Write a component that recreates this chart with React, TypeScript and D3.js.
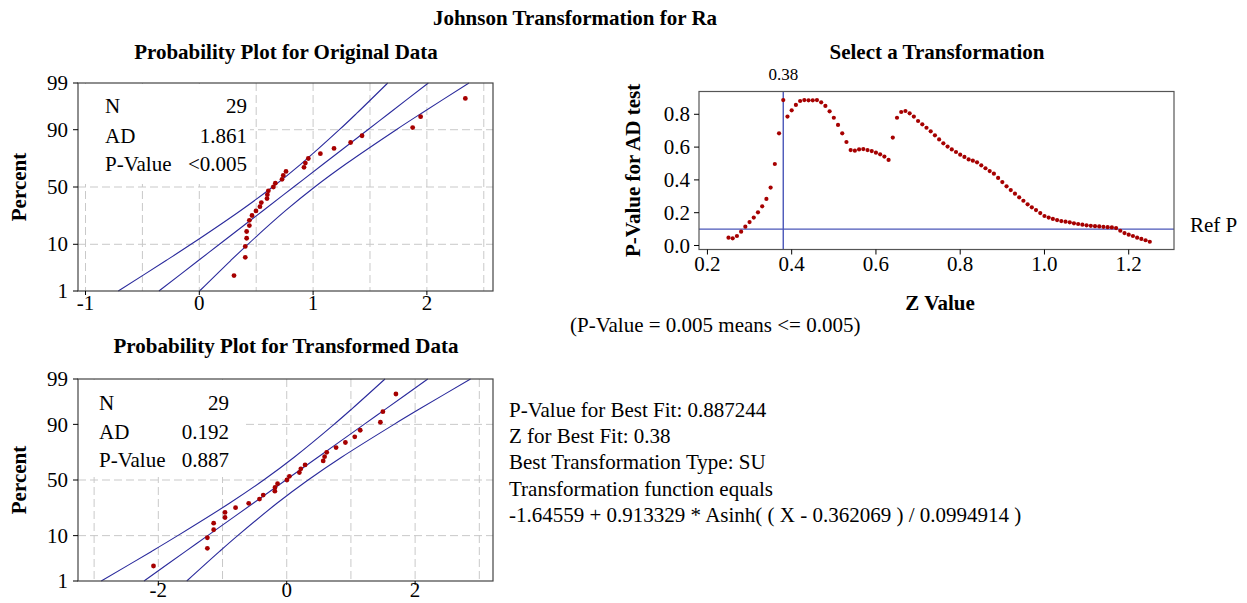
import React from 'react';
import * as d3 from 'd3';

const FONT = '"Liberation Serif", "Times New Roman", serif';
const FS = 21;
const DOT = '#a60000';
const LINE = '#2a2a9c';
const REF = '#4a56b8';
const GRID = '#c9c9c9';

// plotting positions (percent) of the 29 ranked observations
const percents = [2.38, 5.78, 9.18, 12.59, 15.99, 19.39, 22.79, 26.19, 29.59, 32.99, 36.39, 39.8, 43.2, 46.6, 50.0,
  53.4, 56.8, 60.2, 63.61, 67.01, 70.41, 73.81, 77.21, 80.61, 84.01, 87.41, 90.82, 94.22, 97.62];

const originalData = [0.305, 0.404, 0.404, 0.416, 0.416, 0.44, 0.44, 0.463, 0.498, 0.533, 0.545, 0.595, 0.598, 0.607,
  0.651, 0.668, 0.727, 0.738, 0.762, 0.92, 0.932, 0.958, 1.064, 1.184, 1.33, 1.43, 1.875, 1.945, 2.338];
const transformedData = [-2.075, -1.236, -1.236, -1.138, -1.138, -0.961, -0.961, -0.797, -0.592, -0.424, -0.366,
  -0.185, -0.182, -0.143, 0.003, 0.042, 0.197, 0.22, 0.286, 0.568, 0.59, 0.623, 0.769, 0.914, 1.06, 1.145, 1.459,
  1.498, 1.701];

// fitted line and 95% bands, read at these percent levels
const linePercents = [1, 5, 10, 30, 50, 70, 90, 95, 99];
const origFit = [-0.355, -0.008, 0.177, 0.562, 0.829, 1.096, 1.481, 1.666, 2.013];
const origLower = [-0.712, -0.292, -0.073, 0.364, 0.644, 0.898, 1.231, 1.382, 1.656];
const origUpper = [0.002, 0.276, 0.427, 0.76, 1.014, 1.294, 1.731, 1.95, 2.37];
const transFit = [-2.223, -1.576, -1.231, -0.511, -0.013, 0.485, 1.205, 1.55, 2.197];
const transLower = [-2.889, -2.106, -1.698, -0.88, -0.359, 0.116, 0.738, 1.02, 1.531];
const transUpper = [-1.557, -1.046, -0.764, -0.142, 0.333, 0.854, 1.672, 2.08, 2.863];

const percentTicks = [1, 10, 50, 90, 99];
const percentGrid = [10, 50, 90];

// Z value scan and AD p-values
const zValues = [0.25, 0.26, 0.27, 0.28, 0.29, 0.3, 0.31, 0.32, 0.33, 0.34, 0.35, 0.36, 0.37, 0.38, 0.39, 0.4, 0.41,
  0.42, 0.43, 0.44, 0.45, 0.46, 0.47, 0.48, 0.49, 0.5, 0.51, 0.52, 0.53, 0.54, 0.55, 0.56, 0.57, 0.58, 0.59, 0.6,
  0.61, 0.62, 0.63, 0.64, 0.65, 0.66, 0.67, 0.68, 0.69, 0.7, 0.71, 0.72, 0.73, 0.74, 0.75, 0.76, 0.77, 0.78, 0.79,
  0.8, 0.81, 0.82, 0.83, 0.84, 0.85, 0.86, 0.87, 0.88, 0.89, 0.9, 0.91, 0.92, 0.93, 0.94, 0.95, 0.96, 0.97, 0.98,
  0.99, 1.0, 1.01, 1.02, 1.03, 1.04, 1.05, 1.06, 1.07, 1.08, 1.09, 1.1, 1.11, 1.12, 1.13, 1.14, 1.15, 1.16, 1.17,
  1.18, 1.19, 1.2, 1.21, 1.22, 1.23, 1.24, 1.25];
const pValues = [0.048, 0.044, 0.058, 0.084, 0.115, 0.143, 0.17, 0.202, 0.239, 0.284, 0.353, 0.497, 0.684, 0.887,
  0.786, 0.824, 0.857, 0.881, 0.887, 0.885, 0.885, 0.887, 0.873, 0.851, 0.818, 0.779, 0.735, 0.684, 0.631, 0.582,
  0.578, 0.586, 0.588, 0.582, 0.576, 0.566, 0.556, 0.542, 0.522, 0.658, 0.779, 0.814, 0.82, 0.806, 0.786, 0.759,
  0.739, 0.718, 0.696, 0.672, 0.647, 0.623, 0.603, 0.586, 0.57, 0.554, 0.54, 0.525, 0.517, 0.507, 0.489, 0.471,
  0.454, 0.438, 0.412, 0.387, 0.361, 0.338, 0.316, 0.294, 0.273, 0.251, 0.233, 0.216, 0.198, 0.18, 0.17, 0.162,
  0.155, 0.149, 0.145, 0.141, 0.135, 0.131, 0.127, 0.123, 0.12, 0.118, 0.116, 0.114, 0.112, 0.11, 0.106, 0.09,
  0.076, 0.066, 0.058, 0.048, 0.04, 0.032, 0.023];
const bestZ = 0.38;
const refP = 0.1;
const pTicks = [0, 0.2, 0.4, 0.6, 0.8];
const zTicks = [0.2, 0.4, 0.6, 0.8, 1.0, 1.2];

const legendLabels = ['N', 'AD', 'P-Value'];
const origLegend = ['29', '1.861', '<0.005'];
const transLegend = ['29', '0.192', '0.887'];

const infoLines = [
  'P-Value for Best Fit: 0.887244',
  'Z for Best Fit: 0.38',
  'Best Transformation Type: SU',
  'Transformation function equals',
  '-1.64559 + 0.913329 * Asinh( ( X - 0.362069 ) / 0.0994914 )',
];

// inverse standard normal CDF (Acklam)
function probit(p: number): number {
  const a = [-39.69683028665376, 220.9460984245205, -275.9285104469687, 138.357751867269, -30.66479806614716, 2.506628277459239];
  const b = [-54.47609879822406, 161.5858368580409, -155.6989798598866, 66.80131188771972, -13.28068155288572];
  const c = [-0.007784894002430293, -0.3223964580411365, -2.400758277161838, -2.549732539343734, 4.374664141464968, 2.938163982698783];
  const d = [0.007784695709041462, 0.3224671290700398, 2.445134137142996, 3.754408661907416];
  const lo = 0.02425;
  if (p < lo) {
    const q = Math.sqrt(-2 * Math.log(p));
    return (((((c[0] * q + c[1]) * q + c[2]) * q + c[3]) * q + c[4]) * q + c[5]) / ((((d[0] * q + d[1]) * q + d[2]) * q + d[3]) * q + 1);
  }
  if (p > 1 - lo) return -probit(1 - p);
  const q = p - 0.5;
  const r = q * q;
  return (((((a[0] * r + a[1]) * r + a[2]) * r + a[3]) * r + a[4]) * r + a[5]) * q /
    (((((b[0] * r + b[1]) * r + b[2]) * r + b[3]) * r + b[4]) * r + 1);
}

type Tick = { pos: number; label: string };

const BottomAxis = ({ ticks, y, len, base }: { ticks: Tick[]; y: number; len: number; base: number }) => (
  <g>
    {ticks.map(t => (
      <g key={t.label}>
        <line x1={t.pos} x2={t.pos} y1={y} y2={y + len} stroke="#000" />
        <text x={t.pos} y={y + base} textAnchor="middle" fontFamily={FONT} fontSize={FS}>{t.label}</text>
      </g>
    ))}
  </g>
);

const LeftAxis = ({ ticks, x, len, pad }: { ticks: Tick[]; x: number; len: number; pad: number }) => (
  <g>
    {ticks.map(t => (
      <g key={t.label}>
        <line x1={x - len} x2={x} y1={t.pos} y2={t.pos} stroke="#000" />
        <text x={x - len - pad} y={t.pos} dy="0.34em" textAnchor="end" fontFamily={FONT} fontSize={FS}>{t.label}</text>
      </g>
    ))}
  </g>
);

type Frame = { x0: number; x1: number; y0: number; y1: number };

const ProbPlot = ({ frame, xDomain, xGrid, xTicks, data, fit, lower, upper, legend, legendPos, labelBase }: {
  frame: Frame; xDomain: number[]; xGrid: number[]; xTicks: number[]; data: number[];
  fit: number[]; lower: number[]; upper: number[]; legend: string[];
  legendPos: { lx: number; vx: number; ys: number[]; boxR: number; boxB: number }; labelBase: number;
}) => {
  const x = d3.scaleLinear().domain(xDomain).range([frame.x0, frame.x1]);
  const z = d3.scaleLinear().domain([probit(0.01), probit(0.99)]).range([frame.y1, frame.y0]);
  const y = (p: number) => z(probit(p / 100));

  const line = d3.line<number>()
    .x(d => x(d))
    .y((_, i) => y(linePercents[i]))
    .curve(d3.curveCatmullRom);

  return (
    <g>
      {xGrid.map(v => (
        <line key={`gx${v}`} x1={x(v)} x2={x(v)} y1={frame.y0} y2={frame.y1}
          stroke={GRID} strokeDasharray="8,4" />
      ))}
      {percentGrid.map(p => (
        <line key={`gy${p}`} x1={frame.x0} x2={frame.x1} y1={y(p)} y2={y(p)}
          stroke={GRID} strokeDasharray="8,4" />
      ))}
      <rect x={frame.x0 + 1} y={frame.y0 + 1} width={legendPos.boxR - frame.x0 - 1}
        height={legendPos.boxB - frame.y0 - 1} fill="#fff" />
      {legendLabels.map((l, i) => (
        <g key={l} fontFamily={FONT} fontSize={FS}>
          <text x={legendPos.lx} y={legendPos.ys[i]}>{l}</text>
          <text x={legendPos.vx} y={legendPos.ys[i]} textAnchor="end">{legend[i]}</text>
        </g>
      ))}
      {[lower, fit, upper].map((l, i) => (
        <path key={`l${i}`} d={line(l) || ''} fill="none" stroke={LINE} strokeWidth={1.1} />
      ))}
      {data.map((v, i) => (
        <circle key={`p${i}`} cx={x(v)} cy={y(percents[i])} r={2.4} fill={DOT} />
      ))}
      <rect x={frame.x0} y={frame.y0} width={frame.x1 - frame.x0} height={frame.y1 - frame.y0}
        fill="none" stroke="#444" strokeWidth={1.2} />
      <BottomAxis ticks={xTicks.map(v => ({ pos: x(v), label: String(v) }))} y={frame.y1} len={4} base={labelBase} />
      <LeftAxis ticks={percentTicks.map(p => ({ pos: y(p), label: String(p) }))} x={frame.x0} len={5} pad={5} />
      <text transform={`translate(26,${(frame.y0 + frame.y1) / 2}) rotate(-90)`} textAnchor="middle"
        fontFamily={FONT} fontSize={FS} fontWeight="bold">Percent</text>
    </g>
  );
};

const TransformPlot = ({ frame }: { frame: Frame }) => {
  const x = d3.scaleLinear().domain([0.18, 1.3075]).range([frame.x0, frame.x1]);
  const y = d3.scaleLinear().domain([-0.0244, 0.939]).range([frame.y1, frame.y0]);
  const f = d3.format('.1f');
  return (
    <g>
      <line x1={x(bestZ)} x2={x(bestZ)} y1={frame.y0} y2={frame.y1} stroke={REF} strokeWidth={1.4} />
      <line x1={frame.x0} x2={frame.x1} y1={y(refP)} y2={y(refP)} stroke={REF} strokeWidth={1.4} />
      {zValues.map((v, i) => (
        <circle key={`z${i}`} cx={x(v)} cy={y(pValues[i])} r={2.1} fill={DOT} />
      ))}
      <rect x={frame.x0} y={frame.y0} width={frame.x1 - frame.x0} height={frame.y1 - frame.y0}
        fill="none" stroke="#555" strokeWidth={1.2} />
      <BottomAxis ticks={zTicks.map(v => ({ pos: x(v), label: f(v) }))} y={frame.y1} len={5} base={21} />
      <LeftAxis ticks={pTicks.map(v => ({ pos: y(v), label: f(v) }))} x={frame.x0} len={5} pad={4} />
      <text x={x(bestZ)} y={80} textAnchor="middle" fontFamily={FONT} fontSize={17}>{String(bestZ)}</text>
      <text x={frame.x1 + 16} y={232} fontFamily={FONT} fontSize={FS}>Ref P</text>
      <text transform={`translate(640,${(frame.y0 + frame.y1) / 2}) rotate(-90)`} textAnchor="middle"
        fontFamily={FONT} fontSize={FS} fontWeight="bold">P-Value for AD test</text>
      <text x={940} y={310} textAnchor="middle" fontFamily={FONT} fontSize={FS} fontWeight="bold">Z Value</text>
      <text x={570} y={332} fontFamily={FONT} fontSize={FS}>(P-Value = 0.005 means &lt;= 0.005)</text>
    </g>
  );
};

export default function App() {
  const TL = { x0: 78, x1: 493, y0: 83, y1: 291 };
  const BL = { x0: 78, x1: 493, y0: 379, y1: 581 };
  const TR = { x0: 699, x1: 1174, y0: 91.5, y1: 249.5 };
  return (
    <svg width={1247} height={603} style={{ position: 'absolute', left: 0, top: 0, background: '#fff' }}>
      <rect width={1247} height={603} fill="#fff" />
      <text x={575} y={25} textAnchor="middle" fontFamily={FONT} fontSize={FS} fontWeight="bold">
        Johnson Transformation for Ra
      </text>
      <text x={286} y={59} textAnchor="middle" fontFamily={FONT} fontSize={FS} fontWeight="bold">
        Probability Plot for Original Data
      </text>
      <text x={937} y={59} textAnchor="middle" fontFamily={FONT} fontSize={FS} fontWeight="bold">
        Select a Transformation
      </text>
      <text x={286} y={353} textAnchor="middle" fontFamily={FONT} fontSize={FS} fontWeight="bold">
        Probability Plot for Transformed Data
      </text>
      <ProbPlot frame={TL} xDomain={[-1.066, 2.581]} xGrid={[-1, -0.5, 0, 0.5, 1, 1.5, 2, 2.5]}
        xTicks={[-1, 0, 1, 2]} data={originalData} fit={origFit} lower={origLower} upper={origUpper}
        legend={origLegend} legendPos={{ lx: 105, vx: 247, ys: [113, 142.5, 170.5], boxR: 250, boxB: 184 }}
        labelBase={19} />
      <ProbPlot frame={BL} xDomain={[-3.251, 3.213]} xGrid={[-3, -2, -1, 0, 1, 2, 3]}
        xTicks={[-2, 0, 2]} data={transformedData} fit={transFit} lower={transLower} upper={transUpper}
        legend={transLegend} legendPos={{ lx: 99, vx: 229, ys: [410, 439, 467], boxR: 245, boxB: 477 }}
        labelBase={16} />
      <TransformPlot frame={TR} />
      {infoLines.map((t, i) => (
        <text key={t} x={509} y={417 + i * 26.2} fontFamily={FONT} fontSize={FS}>{t}</text>
      ))}
    </svg>
  );
}
